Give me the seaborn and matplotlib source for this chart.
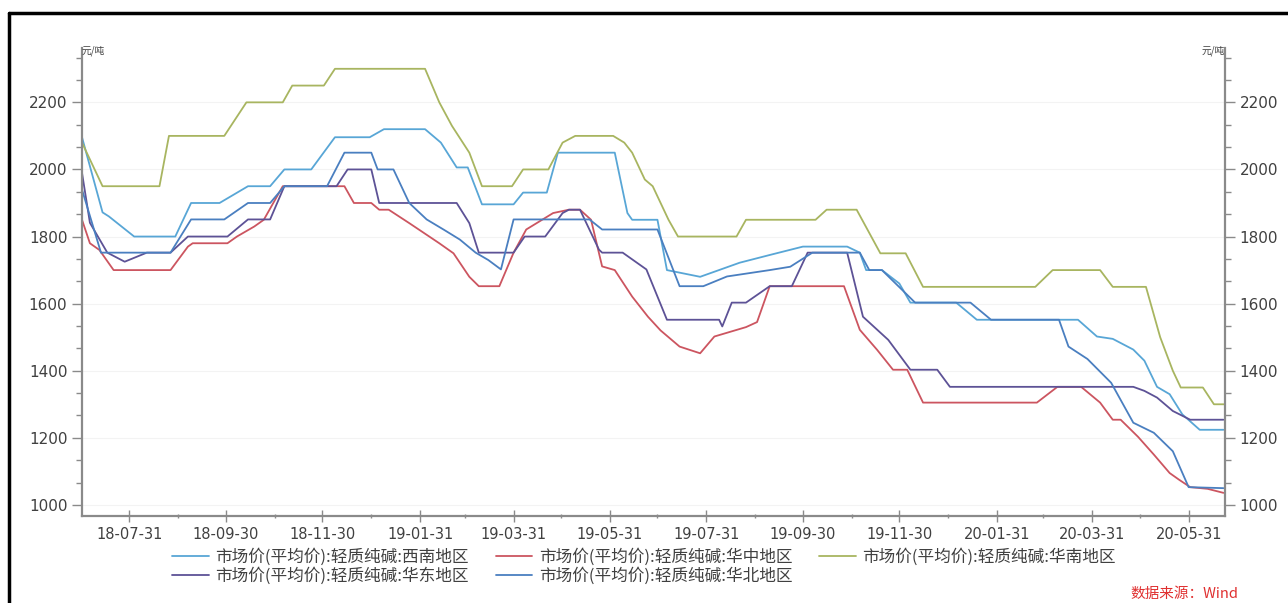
import pandas as pd
import matplotlib.pyplot as plt
import matplotlib.dates as mdates
from matplotlib.ticker import MultipleLocator
from matplotlib.lines import Line2D
import seaborn as sns

# 市场价(平均价):轻质纯碱 各地区, 元/吨 (turning points)
dates_xinan = ['2018-07-01', '2018-07-14', '2018-07-18', '2018-08-03', '2018-08-29', '2018-09-08',
               '2018-09-26', '2018-10-14', '2018-10-28', '2018-11-06', '2018-11-23', '2018-12-08',
               '2018-12-30', '2019-01-08', '2019-02-03', '2019-02-13', '2019-02-23', '2019-03-02',
               '2019-03-11', '2019-03-31', '2019-04-06', '2019-04-21', '2019-04-28', '2019-06-03',
               '2019-06-11', '2019-06-14', '2019-06-30', '2019-07-06', '2019-07-27', '2019-08-21',
               '2019-09-09', '2019-09-30', '2019-10-28', '2019-11-05', '2019-11-09', '2019-11-19',
               '2019-11-30', '2019-12-07', '2020-01-05', '2020-01-18', '2020-03-22', '2020-04-03',
               '2020-04-13', '2020-04-26', '2020-05-03', '2020-05-11', '2020-05-19', '2020-05-27',
               '2020-06-07', '2020-06-22']
vals_xinan = [2096, 1872, 1860, 1800, 1800, 1900, 1900, 1950, 1950, 2000, 2000, 2096,
              2096, 2120, 2120, 2080, 2006, 2006, 1896, 1896, 1931, 1931, 2050, 2050,
              1870, 1850, 1850, 1700, 1680, 1722, 1745, 1770, 1770, 1752, 1700, 1700,
              1660, 1603, 1603, 1552, 1552, 1502, 1495, 1463, 1430, 1352, 1330, 1270,
              1224, 1224]

dates_huazhong = ['2018-07-01', '2018-07-06', '2018-07-12', '2018-07-21', '2018-08-26', '2018-09-06',
                  '2018-09-09', '2018-10-01', '2018-10-07', '2018-10-18', '2018-10-24', '2018-11-05',
                  '2018-12-14', '2018-12-20', '2018-12-31', '2019-01-05', '2019-01-11', '2019-01-24',
                  '2019-02-12', '2019-02-21', '2019-03-03', '2019-03-09', '2019-03-22', '2019-03-31',
                  '2019-04-08', '2019-04-25', '2019-05-05', '2019-05-12', '2019-05-19', '2019-05-26',
                  '2019-06-03', '2019-06-14', '2019-06-24', '2019-07-02', '2019-07-14', '2019-07-27',
                  '2019-08-05', '2019-08-25', '2019-09-01', '2019-09-09', '2019-10-26', '2019-11-05',
                  '2019-11-16', '2019-11-26', '2019-12-05', '2019-12-15', '2020-02-25', '2020-03-09',
                  '2020-03-24', '2020-04-05', '2020-04-13', '2020-04-18', '2020-04-29', '2020-05-09',
                  '2020-05-19', '2020-05-25', '2020-06-01', '2020-06-12', '2020-06-22']
vals_huazhong = [1850, 1780, 1760, 1700, 1700, 1770, 1780, 1780, 1800, 1830, 1850, 1950,
                 1950, 1900, 1900, 1880, 1880, 1840, 1780, 1750, 1680, 1652, 1652, 1752,
                 1821, 1870, 1880, 1880, 1850, 1711, 1700, 1621, 1561, 1520, 1472, 1452,
                 1502, 1530, 1545, 1652, 1652, 1522, 1462, 1403, 1403, 1305, 1305, 1352,
                 1352, 1305, 1254, 1254, 1203, 1150, 1095, 1075, 1053, 1048, 1036]

dates_huanan = ['2018-07-01', '2018-07-14', '2018-08-19', '2018-08-25', '2018-09-29', '2018-10-13',
                '2018-11-05', '2018-11-11', '2018-12-01', '2018-12-08', '2019-02-03', '2019-02-12',
                '2019-02-20', '2019-03-03', '2019-03-11', '2019-03-30', '2019-04-06', '2019-04-22',
                '2019-05-01', '2019-05-09', '2019-06-02', '2019-06-09', '2019-06-14', '2019-06-22',
                '2019-06-27', '2019-07-07', '2019-07-13', '2019-08-19', '2019-08-25', '2019-10-08',
                '2019-10-15', '2019-11-03', '2019-11-18', '2019-12-04', '2019-12-15', '2020-02-24',
                '2020-03-06', '2020-04-05', '2020-04-13', '2020-05-04', '2020-05-13', '2020-05-21',
                '2020-05-26', '2020-06-09', '2020-06-16', '2020-06-23']
vals_huanan = [2080, 1950, 1950, 2100, 2100, 2200, 2200, 2250, 2250, 2300, 2300, 2200,
               2130, 2050, 1950, 1950, 2000, 2000, 2080, 2100, 2100, 2080, 2050, 1970,
               1950, 1850, 1800, 1800, 1850, 1850, 1880, 1880, 1750, 1750, 1650, 1650,
               1700, 1700, 1650, 1650, 1500, 1400, 1350, 1350, 1300, 1300]

dates_huadong = ['2018-07-01', '2018-07-06', '2018-07-17', '2018-07-28', '2018-08-11', '2018-08-26',
                 '2018-09-06', '2018-10-01', '2018-10-14', '2018-10-28', '2018-11-06', '2018-12-09',
                 '2018-12-16', '2018-12-31', '2019-01-05', '2019-02-23', '2019-03-03', '2019-03-09',
                 '2019-03-31', '2019-04-07', '2019-04-20', '2019-05-01', '2019-05-05', '2019-05-12',
                 '2019-05-24', '2019-05-26', '2019-06-08', '2019-06-23', '2019-07-06', '2019-08-08',
                 '2019-08-10', '2019-08-16', '2019-08-25', '2019-09-09', '2019-09-23', '2019-10-03',
                 '2019-10-28', '2019-11-07', '2019-11-23', '2019-12-07', '2019-12-24', '2020-01-01',
                 '2020-04-26', '2020-05-03', '2020-05-11', '2020-05-21', '2020-06-01', '2020-06-22']
vals_huadong = [1990, 1841, 1752, 1725, 1752, 1752, 1800, 1800, 1851, 1851, 1950, 1950,
                2000, 2000, 1900, 1900, 1840, 1752, 1752, 1800, 1800, 1870, 1880, 1880,
                1761, 1752, 1752, 1702, 1552, 1552, 1532, 1603, 1603, 1652, 1652, 1752,
                1752, 1561, 1492, 1403, 1403, 1352, 1352, 1340, 1320, 1280, 1254, 1254]

dates_huabei = ['2018-07-01', '2018-07-13', '2018-08-26', '2018-09-08', '2018-09-29', '2018-10-14',
                '2018-10-28', '2018-11-06', '2018-12-03', '2018-12-14', '2018-12-31', '2019-01-04',
                '2019-01-14', '2019-01-24', '2019-02-04', '2019-02-15', '2019-02-25', '2019-03-07',
                '2019-03-15', '2019-03-23', '2019-03-31', '2019-05-18', '2019-05-26', '2019-06-30',
                '2019-07-14', '2019-07-29', '2019-08-13', '2019-09-09', '2019-09-22', '2019-10-06',
                '2019-11-05', '2019-11-11', '2019-11-19', '2019-12-10', '2020-01-14', '2020-01-27',
                '2020-03-10', '2020-03-16', '2020-03-28', '2020-04-12', '2020-04-26', '2020-05-09',
                '2020-05-21', '2020-05-31', '2020-06-22']
vals_huabei = [1940, 1752, 1752, 1851, 1851, 1900, 1900, 1950, 1950, 2050, 2050, 2000,
               2000, 1900, 1851, 1820, 1791, 1752, 1730, 1702, 1851, 1851, 1821, 1821,
               1652, 1652, 1681, 1700, 1710, 1752, 1752, 1700, 1700, 1603, 1603, 1552,
               1552, 1472, 1435, 1364, 1245, 1215, 1160, 1053, 1050]

names = ['市场价(平均价):轻质纯碱:西南地区', '市场价(平均价):轻质纯碱:华中地区',
         '市场价(平均价):轻质纯碱:华南地区', '市场价(平均价):轻质纯碱:华东地区',
         '市场价(平均价):轻质纯碱:华北地区']
colors = ['#58a6d6', '#cc5560', '#a8b560', '#5d5296', '#4a7fc0']

frames = []
for name, d, v in zip(names,
                      [dates_xinan, dates_huazhong, dates_huanan, dates_huadong, dates_huabei],
                      [vals_xinan, vals_huazhong, vals_huanan, vals_huadong, vals_huabei]):
    frames.append(pd.DataFrame({'date': pd.to_datetime(d), 'price': v, 'name': name}))
df = pd.concat(frames, ignore_index=True)

sns.set_style('white')
plt.rcParams['font.family'] = ['DejaVu Sans', 'Noto Sans CJK SC']

fig = plt.figure(figsize=(12.88, 6.03), dpi=100)
ax = fig.add_axes([82 / 1288, 87 / 603, 1143 / 1288, 468 / 603])

palette = dict(zip(names, colors))
sns.lineplot(data=df, x='date', y='price', hue='name', palette=palette,
             estimator=None, sort=False, linewidth=1.3, legend=False, ax=ax)

ax.set_xlim(pd.Timestamp('2018-07-01'), pd.Timestamp('2020-06-23'))
ax.set_ylim(967, 2362)
ax.set_xlabel('')
ax.set_ylabel('')

ax.set_xticks(pd.date_range('2018-07-31', '2020-05-31', freq='2ME'))
ax.set_xticks(pd.date_range('2018-08-31', '2020-04-30', freq='2ME'), minor=True)
ax.xaxis.set_major_formatter(mdates.DateFormatter('%y-%m-%d'))
ax.set_yticks(range(1000, 2201, 200))
ax.yaxis.set_minor_locator(MultipleLocator(200 / 3))
ax.yaxis.grid(True, color='#f3f3f3', linewidth=0.8)

for s in ['left', 'right', 'bottom']:
    ax.spines[s].set_color('#8a8a8a')
    ax.spines[s].set_linewidth(1.6)
ax.spines['top'].set_visible(False)

ax.tick_params(axis='y', which='major', left=True, right=True, labelright=True,
               length=7, width=1, color='#8a8a8a', labelsize=11, labelcolor='#404040')
ax.tick_params(axis='y', which='minor', left=True, right=True, length=4, width=1, color='#8a8a8a')
ax.tick_params(axis='x', which='major', bottom=True, direction='inout', length=8, width=1,
               color='#8a8a8a', labelsize=10.5, labelcolor='#404040', pad=4)
ax.tick_params(axis='x', which='minor', bottom=True, direction='inout', length=3, width=1,
               color='#8a8a8a')

ax.text(0.0, 0.995, '元/吨', transform=ax.transAxes, fontsize=7, color='#404040',
        ha='left', va='center', family='Noto Sans CJK SC')
ax.text(1.0, 0.995, '元/吨', transform=ax.transAxes, fontsize=7, color='#404040',
        ha='right', va='center', family='Noto Sans CJK SC')

# legend in two rows: 西南/华中/华南, then 华东/华北
leg_kw = dict(loc='center left', frameon=False, handlelength=2.2, handletextpad=0.4,
              columnspacing=1.6, borderpad=0, borderaxespad=0,
              prop={'family': 'Noto Sans CJK SC', 'size': 12}, labelcolor='#404040')
for row, y in [([0, 1, 2], 557), ([3, 4], 576)]:
    handles = [Line2D([], [], color=colors[i], linewidth=1.3) for i in row]
    fig.legend(handles, [names[i] for i in row], ncol=len(row),
               bbox_to_anchor=(172 / 1288, 1 - y / 603), **leg_kw)

fig.text(1130 / 1288, 1 - 594 / 603, '数据来源：Wind', color='#e03030', fontsize=10.5,
         style='italic', family='Noto Sans CJK SC', ha='left', va='center')

# outer frame of the screenshot
fig.add_artist(Line2D([9 / 1288, 1.0], [1 - 13 / 603, 1 - 13 / 603], color='black',
                      linewidth=2.5, transform=fig.transFigure))
fig.add_artist(Line2D([9 / 1288, 9 / 1288], [0.0, 1 - 13 / 603], color='black',
                      linewidth=2.5, transform=fig.transFigure))

fig.savefig('out.png', dpi=100)
